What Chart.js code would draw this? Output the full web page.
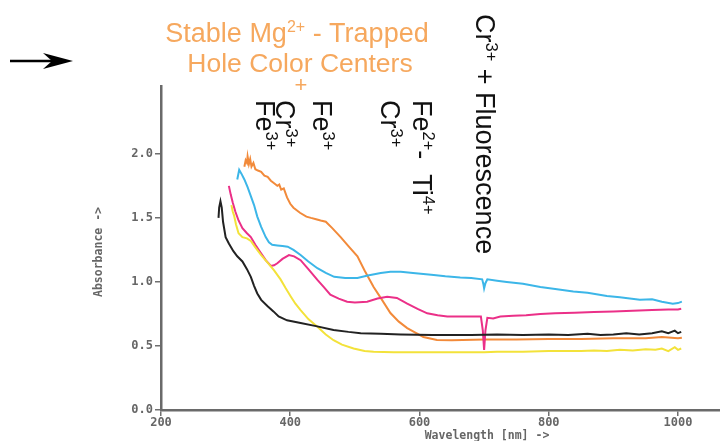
<!DOCTYPE html>
<html><head><meta charset="utf-8">
<script src="https://cdn.jsdelivr.net/npm/chart.js@4/dist/chart.umd.min.js"></script>
<style>html,body{margin:0;padding:0;background:#fff}#wrap{width:720px;height:441px;position:relative}</style>
</head><body><div id="wrap"><canvas id="c" width="720" height="441"></canvas></div>
<script>
// ---- data (wavelength in nm, absorbance) ----
const xTicks = [200, 400, 600, 800, 1000];
const yTicks = [0, 0.5, 1.0, 1.5, 2.0];

const blackWl  = [289,290,292,294,296,300,305,312,318,326,333,339,344,349,355,365,374,382,395,416,440,467,490,509,540,571,620,680,720,760,800,830,860,880,900,920,940,960,975,985,995,1000,1005];
const blackAbs = [1.50,1.58,1.63,1.58,1.47,1.35,1.30,1.24,1.20,1.16,1.10,1.04,0.97,0.91,0.86,0.81,0.77,0.73,0.70,0.68,0.655,0.625,0.61,0.60,0.595,0.59,0.585,0.585,0.59,0.585,0.59,0.585,0.595,0.585,0.59,0.60,0.59,0.60,0.615,0.60,0.62,0.60,0.61];

const yellowWl  = [309,311,313,316,320,326,333,339,346,355,365,375,385,393,401,408,416,428,442,455,467,480,498,515,529,560,600,650,700,720,760,800,850,870,890,910,930,950,965,975,985,995,1000,1005];
const yellowAbs = [1.60,1.55,1.52,1.45,1.38,1.35,1.34,1.32,1.27,1.21,1.15,1.09,1.02,0.95,0.885,0.83,0.78,0.71,0.65,0.59,0.545,0.51,0.48,0.46,0.455,0.45,0.45,0.45,0.45,0.455,0.455,0.46,0.46,0.465,0.46,0.47,0.465,0.475,0.47,0.48,0.46,0.49,0.47,0.48];

const pinkWl  = [305,308,311,315,320,326,333,339,346,354,362,370,375,380,388,398,406,416,428,442,452,462,475,488,500,519,535,550,565,581,597,612,628,643,660,680,695,698,700,702,705,714,725,745,765,787,810,840,870,900,930,960,985,1000,1005];
const pinkAbs = [1.75,1.68,1.62,1.55,1.48,1.42,1.38,1.35,1.29,1.23,1.17,1.125,1.13,1.146,1.18,1.21,1.20,1.17,1.10,1.016,0.96,0.90,0.87,0.846,0.84,0.846,0.87,0.885,0.875,0.83,0.79,0.755,0.74,0.73,0.73,0.73,0.73,0.62,0.47,0.62,0.72,0.715,0.73,0.735,0.74,0.75,0.755,0.76,0.765,0.77,0.775,0.78,0.785,0.785,0.79];

const cyanWl  = [318,321,325,329,334,339,344,349,355,362,367,372,380,388,396,405,416,428,442,455,468,485,504,520,540,555,571,590,610,622,640,663,680,697,699,700,702,705,720,735,760,787,810,838,860,890,910,941,960,975,992,1000,1006];
const cyanAbs = [1.80,1.875,1.84,1.80,1.74,1.67,1.60,1.51,1.43,1.35,1.31,1.29,1.285,1.28,1.275,1.25,1.21,1.16,1.107,1.07,1.04,1.03,1.03,1.05,1.07,1.08,1.08,1.07,1.06,1.055,1.045,1.035,1.03,1.02,0.98,0.95,0.99,1.02,1.01,1.00,0.985,0.96,0.945,0.925,0.915,0.89,0.88,0.86,0.865,0.845,0.83,0.835,0.846];

const orangeWl  = [329,331,333,334,336,338,340,343,346,350,355,360,365,370,375,380,383,386,390,395,400,405,415,425,432,440,447,455,465,478,490,504,515,529,542,555,568,581,595,606,620,627,650,700,750,800,850,900,950,975,1000,1006];
const orangeAbs = [1.90,1.95,1.93,1.98,1.92,1.96,1.90,1.93,1.88,1.87,1.86,1.83,1.82,1.79,1.77,1.75,1.76,1.72,1.73,1.66,1.61,1.58,1.54,1.51,1.50,1.49,1.48,1.47,1.42,1.35,1.28,1.20,1.09,0.96,0.86,0.757,0.69,0.64,0.60,0.57,0.555,0.547,0.545,0.55,0.55,0.555,0.555,0.56,0.56,0.57,0.56,0.565];

function pts(xs, ys){ return xs.map((x,i)=>({x:x, y:ys[i]})); }

const SANS = '"Liberation Sans", Arial, sans-serif';
const MONO = '"DejaVu Sans Mono", "Liberation Mono", monospace';

function drawRich(ctx, segs, size, supSize, supRaise){
  let cx = 0;
  for (const s of segs){
    ctx.font = (s.sup ? supSize : size) + 'px ' + SANS;
    ctx.fillText(s.t, cx, s.sup ? -supRaise : 0);
    cx += ctx.measureText(s.t).width;
  }
  return cx;
}
function measureRich(ctx, segs, size, supSize){
  let w = 0;
  for (const s of segs){ ctx.font = (s.sup ? supSize : size) + 'px ' + SANS; w += ctx.measureText(s.t).width; }
  return w;
}

const annot = {
  id: 'annot',
  afterDraw(chart){
    const ctx = chart.ctx;
    ctx.save();
    ctx.textAlign = 'left';
    ctx.textBaseline = 'alphabetic';
    // orange header
    ctx.fillStyle = '#f6a85e';
    const l1 = [{t:'Stable Mg'},{t:'2+',sup:true},{t:' - Trapped'}];
    let w = measureRich(ctx, l1, 27, 16);
    ctx.save(); ctx.translate(297 - w/2, 42); drawRich(ctx, l1, 27, 16, 10); ctx.restore();
    const l2 = [{t:'Hole Color Centers'}];
    w = measureRich(ctx, l2, 26.5, 16);
    ctx.save(); ctx.translate(300 - w/2, 72); drawRich(ctx, l2, 26.5, 16, 10); ctx.restore();
    ctx.font = '22px ' + SANS;
    ctx.textAlign = 'center';
    ctx.fillText('+', 301, 92);
    ctx.textAlign = 'left';

    // rotated black labels
    ctx.fillStyle = '#111';
    const rot = [
      {x:256, y:100, segs:[{t:'Fe'},{t:'3+',sup:true}]},
      {x:276, y:100, segs:[{t:'Cr'},{t:'3+',sup:true}]},
      {x:313, y:100, segs:[{t:'Fe'},{t:'3+',sup:true}]},
      {x:381, y:100, segs:[{t:'Cr'},{t:'3+',sup:true}]},
      {x:413, y:100, segs:[{t:'Fe'},{t:'2+',sup:true},{t:'-  Ti'},{t:'4+',sup:true}]},
      {x:476, y:14,  segs:[{t:'Cr'},{t:'3+',sup:true},{t:' + Fluorescence'}]}
    ];
    for (const r of rot){
      ctx.save();
      ctx.translate(r.x, r.y);
      ctx.rotate(Math.PI/2);
      drawRich(ctx, r.segs, 27, 16.5, 10);
      ctx.restore();
    }

    // arrow
    ctx.strokeStyle = '#000'; ctx.fillStyle = '#000';
    ctx.lineWidth = 2.5;
    ctx.beginPath(); ctx.moveTo(10, 61); ctx.lineTo(54, 61); ctx.stroke();
    ctx.beginPath();
    ctx.moveTo(73, 61); ctx.lineTo(43, 53); ctx.lineTo(52, 61); ctx.lineTo(43, 69); ctx.closePath(); ctx.fill();

    // axis titles
    ctx.fillStyle = '#666';
    ctx.font = 'bold 11.5px ' + MONO;
    ctx.textAlign = 'center'; ctx.textBaseline = 'middle';
    ctx.fillText('Wavelength [nm] ->', 487, 436);
    ctx.save(); ctx.translate(99, 252); ctx.rotate(-Math.PI/2);
    ctx.fillText('Absorbance ->', 0, 0); ctx.restore();
    ctx.restore();
  }
};

const mk = (label, xs, ys, color) => ({
  label, data: pts(xs, ys), borderColor: color, backgroundColor: color,
  borderWidth: 2, pointRadius: 0, tension: 0, fill: false
});

new Chart(document.getElementById('c'), {
  type: 'line',
  data: { datasets: [
    mk('black', blackWl, blackAbs, '#222222'),
    mk('yellow', yellowWl, yellowAbs, '#f3e23a'),
    mk('pink', pinkWl, pinkAbs, '#eb3088'),
    mk('cyan', cyanWl, cyanAbs, '#3cb6e8'),
    mk('orange', orangeWl, orangeAbs, '#f28a3a')
  ]},
  options: {
    responsive: false, animation: false, devicePixelRatio: 1,
    layout: { padding: { top: 86, left: 0, right: 0, bottom: 0 } },
    plugins: { legend: { display: false }, tooltip: { enabled: false } },
    scales: {
      x: {
        type: 'linear', min: 200, max: 1065,
        afterBuildTicks: s => { s.ticks = xTicks.map(v => ({ value: v })); },
        afterFit: s => { s.height = 31; },
        grid: { drawOnChartArea: false, drawTicks: true, tickLength: 6, color: '#6f6f6f', lineWidth: 1.5 },
        border: { display: true, color: '#6a6a6a', width: 2.5 },
        ticks: { color: '#666', font: { family: MONO, size: 12, weight: 'bold' }, padding: 0, maxRotation: 0,
                 callback: v => String(v) }
      },
      y: {
        type: 'linear', min: 0, max: 2.53,
        afterBuildTicks: s => { s.ticks = yTicks.map(v => ({ value: v })); },
        afterFit: s => { s.width = 161; },
        grid: { drawOnChartArea: false, drawTicks: true, tickLength: 6, color: '#6f6f6f', lineWidth: 1.5 },
        border: { display: true, color: '#6a6a6a', width: 2.5 },
        ticks: { color: '#666', font: { family: MONO, size: 12, weight: 'bold' }, padding: 2,
                 callback: v => Number(v).toFixed(1) }
      }
    }
  },
  plugins: [annot]
});
</script></body></html>
